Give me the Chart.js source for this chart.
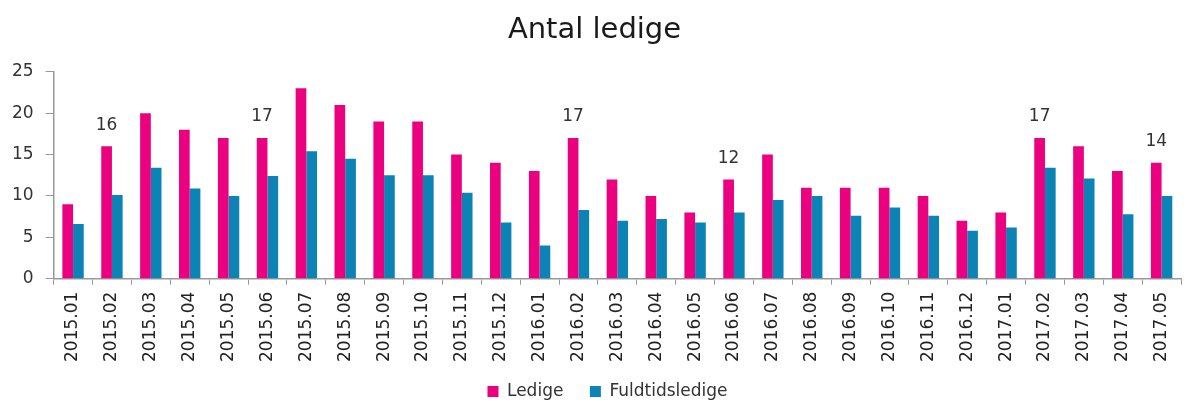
<!DOCTYPE html>
<html>
<head>
<meta charset="utf-8">
<script src="https://cdn.jsdelivr.net/npm/chart.js@4"></script>
<style>
  html, body { margin: 0; padding: 0; background: #fff; }
  #wrap { width: 1189px; height: 404px; position: relative; }
</style>
</head>
<body>
<div id="wrap"><canvas id="chart"></canvas></div>
<script>
/* Data */

const months = [
  "2015.01", "2015.02", "2015.03", "2015.04", "2015.05", "2015.06", "2015.07", "2015.08",
  "2015.09", "2015.10", "2015.11", "2015.12", "2016.01", "2016.02", "2016.03", "2016.04",
  "2016.05", "2016.06", "2016.07", "2016.08", "2016.09", "2016.10", "2016.11", "2016.12",
  "2017.01", "2017.02", "2017.03", "2017.04", "2017.05"
];

const ledige = [9, 16, 20, 18, 17, 17, 23, 21, 19, 19, 15, 14, 13, 17, 12, 10, 8, 12, 15, 11, 11, 11, 10, 7, 8, 17, 16, 13, 14];

const fuldtidsledige = [6.6, 10.1, 13.4, 10.9, 10.0, 12.4, 15.4, 14.5, 12.5, 12.5, 10.4, 6.8, 4.0, 8.3, 7.0, 7.2, 6.8, 8.0, 9.5, 10.0, 7.6, 8.6, 7.6, 5.8, 6.2, 13.4, 12.1, 7.8, 10.0];

// months where the Ledige value is written above the bar
const labelledMonths = ["2015.02", "2015.06", "2016.02", "2016.06", "2017.02", "2017.05"];

const yTicks = [0, 5, 10, 15, 20, 25];

const fontName = "'DejaVu Sans', sans-serif";

/* Value labels */

const valueLabels = {
  id: "valueLabels",
  afterLayout(chart) {
    // legend sits a little right of centre and lower in the original
    chart.legend.left += 13;
    chart.legend.right += 13;
    chart.legend.top += 6;
    chart.legend.bottom += 6;
  },
  afterDatasetsDraw(chart) {
    const ctx = chart.ctx;
    const meta = chart.getDatasetMeta(0);
    ctx.save();
    ctx.font = "17px " + fontName;
    ctx.fillStyle = "#333";
    ctx.textAlign = "center";
    ctx.textBaseline = "middle";
    labelledMonths.forEach(month => {
      const i = months.indexOf(month);
      const bar = meta.data[i];
      ctx.fillText(String(ledige[i]), bar.x, bar.y - 21);
    });
    ctx.restore();
  }
};

/* Chart */

new Chart(document.querySelector("#chart"), {
  type: "bar",
  data: {
    labels: months,
    datasets: [
      {
        label: "Ledige",
        data: ledige,
        backgroundColor: "#EB0080",
        categoryPercentage: 0.55,
        barPercentage: 1
      },
      {
        label: "Fuldtidsledige",
        data: fuldtidsledige,
        backgroundColor: "#0B84B5",
        categoryPercentage: 0.55,
        barPercentage: 1
      }
    ]
  },
  options: {
    responsive: true,
    maintainAspectRatio: false,
    animation: false,
    layout: {
      padding: { left: 0, right: 0, top: 9, bottom: 0 }
    },
    plugins: {
      title: {
        display: true,
        text: "Antal ledige",
        color: "#1a1a1a",
        font: { family: fontName, size: 29, weight: "normal" },
        padding: { top: 4, bottom: 24 }
      },
      legend: {
        position: "bottom",
        labels: {
          boxWidth: 11,
          boxHeight: 11,
          color: "#333",
          padding: 1,
          font: { family: fontName, size: 17 },
          generateLabels(chart) {
            const items = Chart.defaults.plugins.legend.labels.generateLabels(chart);
            items[0].text = items[0].text + "\u2002".repeat(3);
            return items;
          }
        }
      },
      tooltip: { enabled: false }
    },
    scales: {
      x: {
        grid: {
          display: true,
          drawOnChartArea: false,
          offset: true,
          tickLength: 6,
          color: "#999"
        },
        border: { color: "#999", width: 1.5 },
        ticks: {
          minRotation: 90,
          maxRotation: 90,
          color: "#222",
          padding: 7,
          font: { family: fontName, size: 17 }
        },
        afterFit(axis) {
          axis.height += 7;
        }
      },
      y: {
        min: 0,
        max: 25,
        afterBuildTicks(axis) {
          axis.ticks = yTicks.map(v => ({ value: v }));
        },
        grid: {
          display: true,
          drawOnChartArea: false,
          tickLength: 8,
          color: "#999"
        },
        border: { color: "#999", width: 1.5 },
        ticks: {
          color: "#333",
          padding: 12,
          font: { family: fontName, size: 17 }
        }
      }
    }
  },
  plugins: [valueLabels]
});
</script>
</body>
</html>
